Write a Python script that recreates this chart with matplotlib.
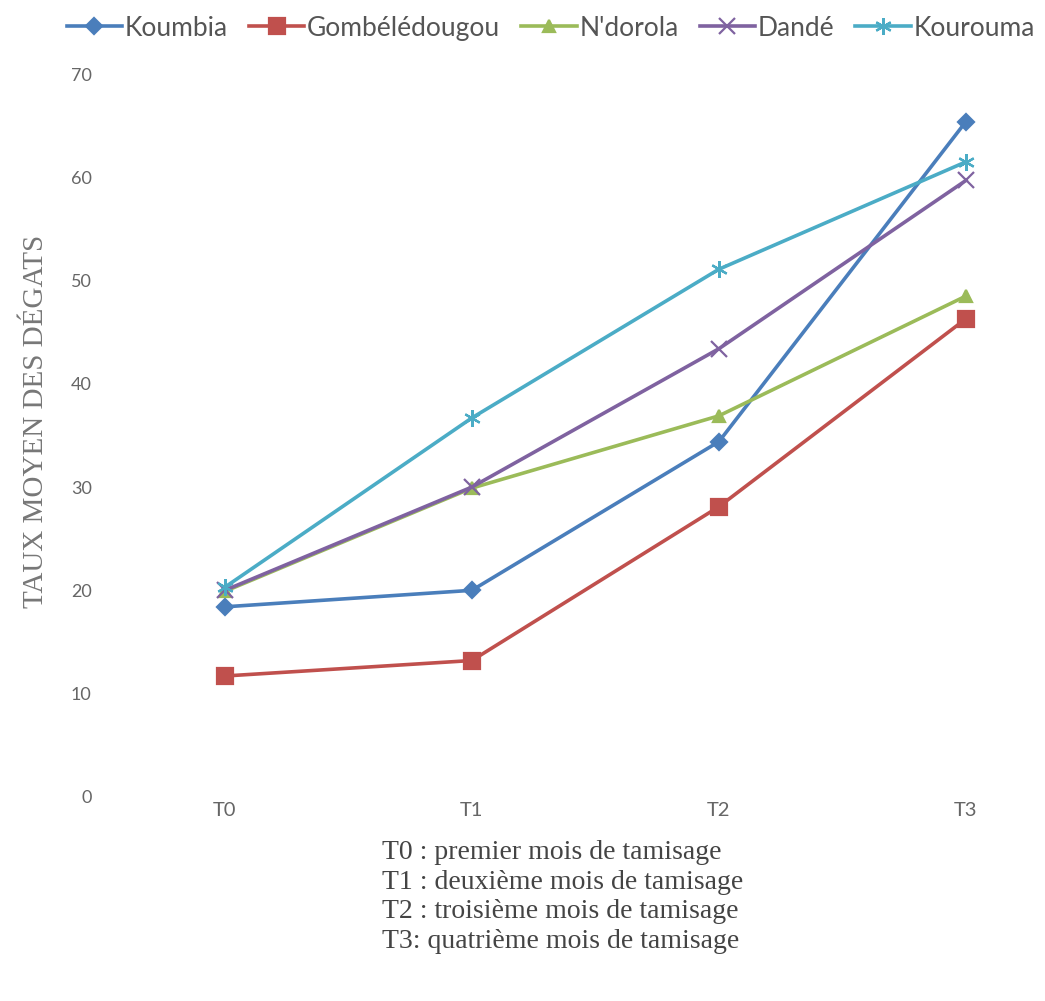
import matplotlib.pyplot as plt
import numpy as np

# data
periodes = ['T0', 'T1', 'T2', 'T3']
koumbia = [18.4, 20.0, 34.4, 65.4]
gombeledougou = [11.7, 13.2, 28.1, 46.3]
ndorola = [19.9, 29.9, 36.9, 48.5]
dande = [20.0, 30.0, 43.4, 59.7]
kourouma = [20.3, 36.7, 51.1, 61.5]

noms = ['Koumbia', 'Gombélédougou', "N'dorola", 'Dandé', 'Kourouma']
series = [koumbia, gombeledougou, ndorola, dande, kourouma]
couleurs = ['#4A7EBB', '#C0504D', '#9BBB59', '#7F62A0', '#4BACC6']
marqueurs = ['D', 's', '^', 'x', (6, 2, 0)]
tailles = [8, 12, 9, 11, 12]

legende = [
    'T0 : premier mois de tamisage',
    'T1 : deuxième mois de tamisage',
    'T2 : troisième mois de tamisage',
    'T3: quatrième mois de tamisage',
]

fig = plt.figure(figsize=(10.45, 10.01), dpi=100)
ax = fig.add_axes([0.097, 0.204, 0.903, 0.722])

x = np.arange(len(periodes))
for nom, val, c, m, s in zip(noms, series, couleurs, marqueurs, tailles):
    ax.plot(x, val, color=c, lw=2.6, marker=m, markersize=s,
            markeredgewidth=1.6, label=nom)

ax.set_xlim(-0.5, 3.32)
ax.set_ylim(0, 70)
ax.set_yticks(range(0, 71, 10))
ax.set_xticks(x)
ax.set_xticklabels(periodes)
for sp in ax.spines.values():
    sp.set_visible(False)
ax.tick_params(length=0, colors='#666666')
ax.tick_params(axis='y', labelsize=13, pad=7)
ax.tick_params(axis='x', labelsize=14.5, pad=4)
for lab in ax.get_xticklabels() + ax.get_yticklabels():
    lab.set_family('Lato')

ax.set_ylabel('TAUX MOYEN DES DÉGATS', family='Liberation Serif',
              fontsize=21, color='#777777')
ax.yaxis.set_label_coords(-0.055, 0.52)

fig.legend(loc='center', bbox_to_anchor=(0.527, 0.972), ncol=5, frameon=False,
           prop={'family': 'Lato', 'size': 19}, handlelength=2.1,
           columnspacing=0.8, handletextpad=0.1, labelcolor='#555555')

for i, ligne in enumerate(legende):
    fig.text(0.366, 0.148 - i * 0.0295, ligne, family='Liberation Serif',
             fontsize=20, color='#444444', va='center')

plt.savefig('out.png', dpi=100)
